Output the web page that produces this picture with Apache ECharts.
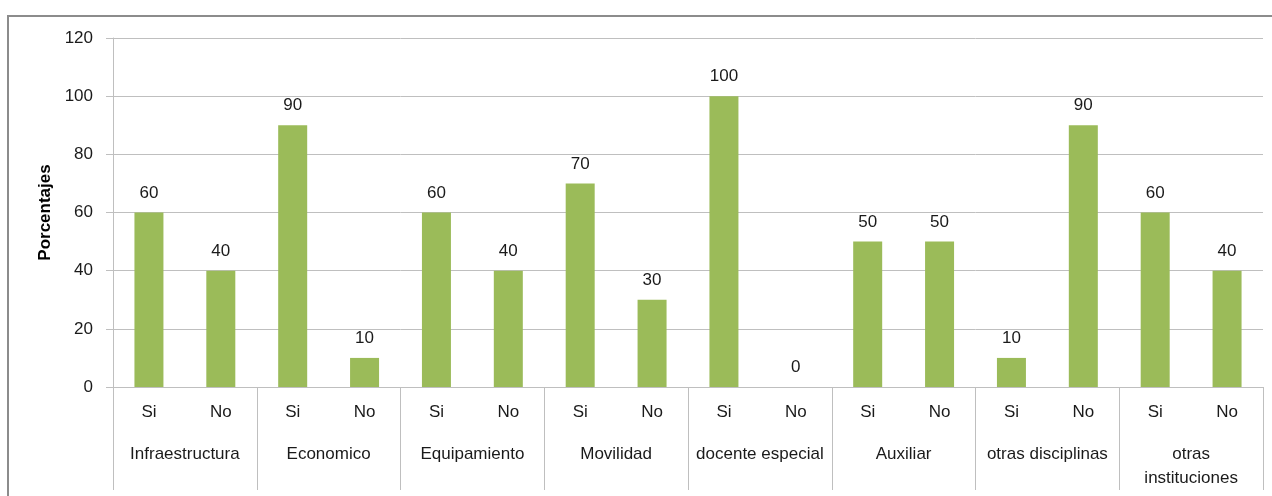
<!DOCTYPE html>
<html><head><meta charset="utf-8">
<script src="https://cdn.jsdelivr.net/npm/echarts@6/dist/echarts.min.js"></script>
<style>
html,body{margin:0;padding:0;background:#fff;}
#frame{position:absolute;left:7px;top:15px;width:1280px;height:520px;border-left:2px solid #8c8c8c;border-top:2px solid #8c8c8c;box-sizing:border-box;}
#c{position:absolute;left:0;top:0;width:1272px;height:496px;}
</style></head>
<body>
<div id="frame"></div>
<div id="c"></div>
<script>
const subLabels = ['Si','No','Si','No','Si','No','Si','No','Si','No','Si','No','Si','No','Si','No'];
const groups = ['Infraestructura','Economico','Equipamiento','Movilidad','docente especial','Auxiliar','otras disciplinas','otras\ninstituciones'];
const values = [60,40,90,10,60,40,70,30,100,0,50,50,10,90,60,40];
const yTicks = {min:0, max:120, interval:20};
const yName = 'Porcentajes';

const chart = echarts.init(document.getElementById('c'), null, {renderer:'canvas'});
const font = 'Liberation Sans, Arial, sans-serif';
const gray = '#bfbfbf';
chart.setOption({
  animation:false,
  grid:{left:113, right:9, top:38, bottom:109, containLabel:false},
  xAxis:[
    {type:'category', data:subLabels, position:'bottom',
     axisLine:{lineStyle:{color:gray}}, axisTick:{show:false},
     axisLabel:{interval:0, margin:17, fontSize:17, fontFamily:font, color:'#1a1a1a'}},
    {type:'category', data:groups, position:'bottom', offset:0,
     axisLine:{show:false},
     axisTick:{show:true, interval:0, length:103, lineStyle:{color:gray}},
     axisLabel:{interval:0, margin:55, fontSize:17, lineHeight:24, fontFamily:font, color:'#1a1a1a'}}
  ],
  yAxis:{type:'value', min:yTicks.min, max:yTicks.max, interval:yTicks.interval,
    name:yName, nameLocation:'middle', nameGap:57, nameRotate:90,
    nameTextStyle:{fontSize:17, fontWeight:'bold', fontFamily:font, color:'#000'},
    axisLine:{show:true, lineStyle:{color:gray}},
    axisTick:{show:true, length:7, lineStyle:{color:gray}},
    axisLabel:{margin:20, fontSize:17, fontFamily:font, color:'#1a1a1a'},
    splitLine:{lineStyle:{color:gray}}},
  series:[{type:'bar', xAxisIndex:0, data:values, barWidth:29,
    itemStyle:{color:'#9bbb59'},
    label:{show:true, position:'top', distance:11, fontSize:17, fontFamily:font, color:'#1a1a1a'}}]
});
</script>
</body></html>
